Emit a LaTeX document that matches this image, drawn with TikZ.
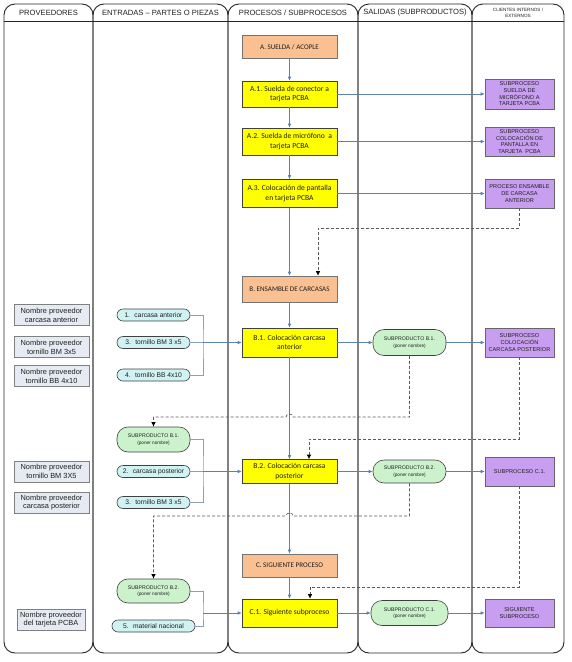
\documentclass[tikz,border=0pt]{standalone}
\usepackage{fontspec}
\setmainfont{Liberation Sans}
\newfontfamily\carl{Carlito}
\usetikzlibrary{arrows.meta}
\definecolor{pyellow}{RGB}{255,255,0}
\definecolor{porange}{RGB}{250,192,146}
\definecolor{ppurple}{RGB}{200,158,240}
\definecolor{pgreen}{RGB}{204,242,204}
\definecolor{pcyan}{RGB}{208,242,242}
\definecolor{pprov}{RGB}{230,235,243}
\definecolor{lblue}{RGB}{92,128,178}
\definecolor{lgray}{RGB}{140,158,185}
\definecolor{txt}{RGB}{30,30,30}
\begin{document}
\begin{tikzpicture}[x=1pt,y=-1pt,
  lane/.style={draw=black!85,line width=0.9pt,rounded corners=11pt},
  hdr/.style={font=\fontsize{7.6}{8.6}\selectfont,text=txt,align=center,inner sep=0},
  procbox/.style={draw=black!75,line width=0.6pt,fill=pyellow,minimum width=95pt,inner sep=0,
    font=\carl\fontsize{7.6}{9.2}\selectfont,text=txt,align=center},
  stagebox/.style={draw=black!55,line width=0.6pt,fill=porange,minimum width=95pt,inner sep=0,
    font=\carl\fontsize{7.1}{8.4}\selectfont,text=txt,align=center},
  clientbox/.style={draw=black!60,line width=0.6pt,fill=ppurple,minimum width=69pt,inner sep=0,
    font=\fontsize{5.6}{6.7}\selectfont,text=txt,align=center},
  subprod/.style={draw=black!75,line width=0.6pt,fill=pgreen,minimum width=73pt,inner sep=0,
    rounded corners=11pt,font=\fontsize{5.2}{6.6}\selectfont,text=txt,align=center},
  inpill/.style={draw=black!75,line width=0.6pt,fill=pcyan,minimum width=73pt,minimum height=12pt,
    inner sep=0,rounded corners=6pt,font=\fontsize{6.7}{7.5}\selectfont,text=txt,align=center},
  provbox/.style={draw=black!50,line width=0.6pt,fill=pprov,minimum width=75pt,
    minimum height=21pt,inner sep=0,font=\fontsize{7.4}{8.8}\selectfont,text=txt,align=center},
  barrow/.style={draw=lblue,line width=0.6pt,-{Latex[length=4pt,width=3.6pt]}},
  brk/.style={draw=lgray,line width=0.6pt},
  dsh/.style={draw=black!65,line width=0.7pt,dash pattern=on 3pt off 2pt,
    -{Latex[length=4.5pt,width=4.5pt,black]}}
]
\useasboundingbox (0,0) rectangle (571,662);
% lanes
\foreach \xa/\xb in {4/93,93/228,228/358,358/472,472/564}{
  \draw[lane] (\xa,4) rectangle (\xb,653);
  \draw[black!85,line width=0.9pt] (\xa,21) -- (\xb,21);
}
\node[hdr] (h1) at (48.5,12.5) {PROVEEDORES};
\node[hdr] (h2) at (160.5,12.5) {ENTRADAS -- PARTES O PIEZAS};
\node[hdr] (h3) at (293,12.5) {PROCESOS / SUBPROCESOS};
\node[hdr] (h4) at (415,12.5) {SALIDAS (SUBPRODUCTOS)};
\node[hdr,font=\fontsize{4.6}{5.8}\selectfont] (h5) at (518,13) {CLIENTES INTERNOS /\\EXTERNOS};

% process lane
\node[stagebox,minimum height=23pt] (A) at (289.5,47) {A. SUELDA / ACOPLE};
\node[procbox,minimum height=26pt] (A1) at (289.5,94) {A.1. Suelda de conector a\\tarjeta PCBA};
\node[procbox,minimum height=27pt] (A2) at (289.5,141.5) {A.2. Suelda de micrófono~ a\\tarjeta PCBA};
\node[procbox,minimum height=28pt] (A3) at (289.5,193.5) {A.3. Colocación de pantalla\\en tarjeta PCBA};
\node[stagebox,minimum height=26pt] (B) at (289.5,289) {B. ENSAMBLE DE CARCASAS};
\node[procbox,minimum height=29pt] (B1) at (289.5,342.5) {B.1. Colocación carcasa\\anterior};
\node[procbox,minimum height=24pt] (B2) at (289.5,471.5) {B.2. Colocación carcasa\\posterior};
\node[stagebox,minimum height=23pt] (C) at (289.5,565.5) {C. SIGUIENTE PROCESO};
\node[procbox,minimum height=28pt] (C1) at (289.5,613) {C.1. Siguiente subproceso};

% clients
\node[clientbox,minimum height=30pt] (A1c) at (519.5,94) {SUBPROCESO\\SUELDA DE\\MICRÓFONO A\\TARJETA PCBA};
\node[clientbox,minimum height=29pt] (A2c) at (519.5,141.5) {SUBPROCESO\\COLOCACIÓN DE\\PANTALLA EN\\TARJETA~ PCBA};
\node[clientbox,minimum height=29pt] (A3c) at (519.5,193.5) {PROCESO ENSAMBLE\\DE CARCASA\\ANTERIOR};
\node[clientbox,minimum height=29pt] (B1c) at (519.5,342.5) {SUBPROCESO\\COLOCACIÓN\\CARCASA POSTERIOR};
\node[clientbox,minimum height=29pt] (C1c) at (519.5,471.5) {SUBPROCESO C.1.};
\node[clientbox,minimum height=28pt] (Sig) at (519.5,613) {SIGUIENTE\\SUBPROCESO};

% outputs
\node[subprod,minimum height=26pt] (SB1) at (409.5,342.5) {SUBPRODUCTO B.1.\\{\fontsize{4.7}{5.5}\selectfont(poner nombre)}};
\node[subprod,minimum height=23pt] (SB2) at (409.5,471.5) {SUBPRODUCTO B.2.\\{\fontsize{4.7}{5.5}\selectfont(poner nombre)}};
\node[subprod,minimum height=25pt,minimum width=77pt] (SC1) at (409.5,613) {SUBPRODUCTO C.1.\\{\fontsize{4.7}{5.5}\selectfont(poner nombre)}};

% inputs
\node[inpill] (in1) at (153.5,315) {1.~ carcasa anterior};
\node[inpill] (in3) at (153.5,342.5) {3.~ tornillo BM 3 x5};
\node[inpill] (in4) at (153.5,375) {4.~ tornillo BB 4x10};
\node[subprod,minimum height=25pt] (ESB1) at (153.5,439.5) {SUBPRODUCTO B.1.\\{\fontsize{4.7}{5.5}\selectfont(poner nombre)}};
\node[inpill] (in2) at (153.5,471.5) {2.~ carcasa posterior};
\node[inpill] (in3b) at (153.5,502.5) {3.~ tornillo BM 3 x5};
\node[subprod,minimum height=24pt] (ESB2) at (153.5,591) {SUBPRODUCTO B.2.\\{\fontsize{4.7}{5.5}\selectfont(poner nombre)}};
\node[inpill,minimum width=83pt] (in5) at (153.5,626) {5.~ material nacional};

% providers
\node[provbox] (P1) at (51.5,315) {Nombre proveedor\\carcasa anterior};
\node[provbox] (P2) at (51.5,347) {Nombre proveedor\\tornillo BM 3x5};
\node[provbox] (P3) at (51.5,376) {Nombre proveedor\\tornillo BB 4x10};
\node[provbox] (P4) at (51.5,471.5) {Nombre proveedor\\tornillo BM 3X5};
\node[provbox] (P5) at (51.5,502.5) {Nombre proveedor\\carcasa posterior};
\node[provbox,minimum width=68pt] (P6) at (51,619.5) {Nombre proveedor\\del tarjeta PCBA};

% junctions
\coordinate (j1) at (203,342.5);
\coordinate (j2) at (203,471.5);
\coordinate (j3) at (203,613);

% blue process flow
\draw[barrow] (A) -- (A1);
\draw[barrow] (A1) -- (A2);
\draw[barrow] (A2) -- (A3);
\draw[barrow] (A3) -- (B);
\draw[barrow] (B) -- (B1);
\draw[barrow] (B1) -- (B2);
\draw[barrow] (B2) -- (C);
\draw[barrow] (C) -- (C1);
\draw[barrow] (A1) -- (A1c);
\draw[barrow] (A2) -- (A2c);
\draw[barrow] (A3) -- (A3c);
\draw[barrow] (B1) -- (SB1);
\draw[barrow] (SB1) -- (B1c);
\draw[barrow] (B2) -- (SB2);
\draw[barrow] (SB2) -- (C1c);
\draw[barrow] (C1) -- (SC1);
\draw[barrow] (SC1) -- (Sig);

% input brackets
\draw[brk] (in1.east) -| (j1) |- (in4.east);
\draw[brk] (in3.east) -- (j1);
\draw[barrow] (j1) -- (B1.west);
\draw[brk] (ESB1.east) -| (j2) |- (in3b.east);
\draw[brk] (in2.east) -- (j2);
\draw[barrow] (j2) -- (B2.west);
\draw[brk] (ESB2.east) -| (j3) |- (in5.east);
\draw[barrow] (j3) -- (C1.west);

% dashed feedback
\coordinate (d1) at (318,228);
\draw[dsh] (A3c.south) |- (d1) -- (d1 |- B.north);
\coordinate (d2) at (153.5,417);
\draw[dsh] (SB1.south) -- (409.5,417) -- (293,417) .. controls (293,413) and (286,413) .. (286,417) -- (d2) -- (ESB1.north);
\coordinate (d3) at (309,439);
\draw[dsh] (B1c.south) |- (d3) -- (d3 |- B2.north);
\coordinate (d4) at (153.5,516);
\draw[dsh] (SB2.south) -- (409.5,516) -- (293,516) .. controls (293,512) and (286,512) .. (286,516) -- (d4) -- (ESB2.north);
\coordinate (d5) at (310,587);
\draw[dsh] (Sig.north |- C1c.south) |- (d5) -- (d5 |- C1.north);
\end{tikzpicture}
\end{document}
